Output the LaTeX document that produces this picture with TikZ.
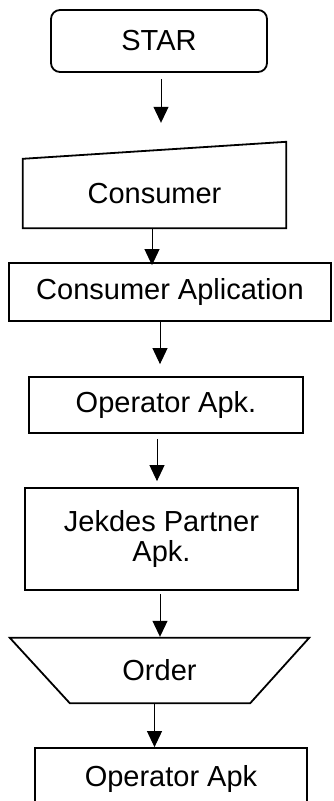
\documentclass[tikz,border=0pt]{standalone}
\usepackage{fontspec}
\setmainfont{Liberation Sans}
\usetikzlibrary{arrows.meta}
\begin{document}
\begin{tikzpicture}[x=1pt,y=1pt,
  lbl/.style={inner sep=0pt,font=\fontsize{29}{30.5}\selectfont,align=center},
  box/.style={lbl,draw,line width=1.8pt},
  outline/.style={line width=1.8pt,line join=miter},
  arr/.style={line width=1pt,-{Triangle[length=16pt,width=15pt]}}]
\useasboundingbox (0,0) rectangle (333,-801);
\clip (0,0) rectangle (333,-801);
% nodes
\node[box,rounded corners=9pt,minimum width=216pt,minimum height=62pt] (star) at (159,-41) {STAR};
\node[lbl,minimum width=263pt,minimum height=69pt] (cons) at (154.5,-193.5) {Consumer};
\draw[outline] (cons.north west) -- (cons.south west) -- (cons.south east) -- ([yshift=17pt]cons.north east) -- cycle;
\node[box,minimum width=322pt,minimum height=58pt] (app) at (170,-292) {Consumer Aplication};
\node[box,minimum width=274pt,minimum height=56pt] (op1) at (166,-405) {Operator Apk.};
\node[box,minimum width=273pt,minimum height=102pt] (jek) at (161.5,-539) {Jekdes Partner\\Apk.};
\node[lbl,minimum width=299pt,minimum height=65pt] (order) at (159.5,-670.5) {Order};
\draw[outline] (order.north west) -- (order.north east) -- ([xshift=-59pt]order.south east) -- ([xshift=60pt]order.south west) -- cycle;
\node[box,minimum width=272pt,minimum height=62pt] (op2) at (171,-779) {Operator Apk};
% connectors
\draw[arr,shorten <=6pt,shorten >=36pt] ([xshift=2pt]star.south) -- ([xshift=2pt]star.south |- cons.north);
\draw[arr,shorten >=-3pt] ([xshift=-2.5pt]cons.south) -- ([xshift=-2.5pt]cons.south |- app.north);
\draw[arr,shorten >=12pt] ([xshift=-10pt]app.south) -- ([xshift=-10pt]app.south |- op1.north);
\draw[arr,shorten <=5pt,shorten >=6pt] ([xshift=-9pt]op1.south) -- ([xshift=-9pt]op1.south |- jek.north);
\draw[arr,shorten <=3pt,shorten >=1pt] ([xshift=-1.5pt]jek.south) -- ([xshift=-1.5pt]jek.south |- order.north);
\draw[arr] ([xshift=-5pt]order.south) -- ([xshift=-5pt]order.south |- op2.north);
\end{tikzpicture}
\end{document}
